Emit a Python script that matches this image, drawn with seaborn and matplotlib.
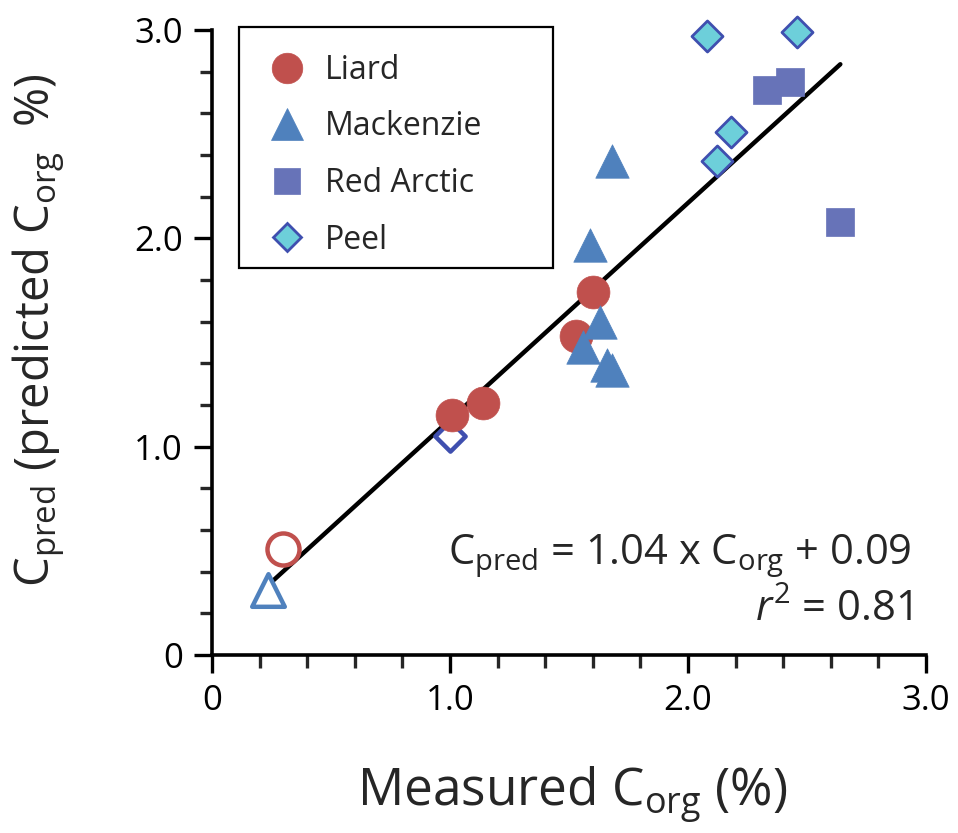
import matplotlib
matplotlib.use("Agg")
import matplotlib.pyplot as plt
import seaborn as sns
import pandas as pd
import numpy as np
from matplotlib.lines import Line2D
from matplotlib.patches import Rectangle

# Measured vs predicted organic carbon (%) per river
rivers = ["Liard", "Mackenzie", "Red Arctic", "Peel"]

liard_measured = [1.01, 1.14, 1.53, 1.60]
liard_predicted = [1.15, 1.21, 1.53, 1.74]

mackenzie_measured = [1.68, 1.59, 1.63, 1.56, 1.66, 1.68]
mackenzie_predicted = [2.37, 1.97, 1.60, 1.48, 1.39, 1.37]

redarctic_measured = [2.33, 2.43, 2.64]
redarctic_predicted = [2.71, 2.75, 2.08]

peel_measured = [2.08, 2.46, 2.18, 2.12]
peel_predicted = [2.97, 2.99, 2.51, 2.37]

# Open symbols (one per river where present)
open_rivers = ["Liard", "Mackenzie", "Peel"]
open_measured = [0.30, 0.235, 1.00]
open_predicted = [0.51, 0.31, 1.05]

# Regression
slope = 1.04
intercept = 0.09
r_squared = 0.81

tick_labels = ["0", "1.0", "2.0", "3.0"]

styles = {
    "Liard": dict(marker="o", face="#C0504D", edge="#C0504D", s=560),
    "Mackenzie": dict(marker="^", face="#4F81BD", edge="#4F81BD", s=580),
    "Red Arctic": dict(marker="s", face="#6773B8", edge="#6773B8", s=420),
    "Peel": dict(marker="D", face="#6DCFDA", edge="#3F4FAF", s=250),
}

frames = []
for name, xs, ys in [
    ("Liard", liard_measured, liard_predicted),
    ("Mackenzie", mackenzie_measured, mackenzie_predicted),
    ("Red Arctic", redarctic_measured, redarctic_predicted),
    ("Peel", peel_measured, peel_predicted),
]:
    frames.append(pd.DataFrame({"river": name, "measured": xs, "predicted": ys}))
df = pd.concat(frames, ignore_index=True)
df_open = pd.DataFrame({"river": open_rivers, "measured": open_measured,
                        "predicted": open_predicted})

sns.set_theme(style="ticks")
plt.rcParams["font.family"] = ["Open Sans", "DejaVu Sans"]
plt.rcParams["mathtext.fontset"] = "custom"
plt.rcParams["mathtext.rm"] = "Open Sans"
plt.rcParams["mathtext.it"] = "Open Sans:italic"
plt.rcParams["mathtext.bf"] = "Open Sans:bold"

fig = plt.figure(figsize=(9.58, 8.33), dpi=100)
ax = fig.add_axes([0.2213, 0.2137, 0.7453, 0.7503])

# Fit line across the range of measured values
all_x = np.concatenate([df["measured"].values, df_open["measured"].values])
fit_x = np.array([all_x.min(), all_x.max()])
fit_df = pd.DataFrame({"measured": fit_x, "predicted": slope * fit_x + intercept})
sns.lineplot(data=fit_df, x="measured", y="predicted", ax=ax, color="black",
             lw=3.2, zorder=2, legend=False)

# Open (hollow) symbols
for name in open_rivers:
    st = styles[name]
    sub = df_open[df_open["river"] == name]
    sns.scatterplot(data=sub, x="measured", y="predicted", ax=ax,
                    marker=st["marker"], s=st["s"] * 0.95, color="white",
                    edgecolor=st["edge"], linewidth=3.2, zorder=3, legend=False,
                    clip_on=False)

# Filled symbols
for name in rivers:
    st = styles[name]
    sub = df[df["river"] == name]
    sns.scatterplot(data=sub, x="measured", y="predicted", ax=ax,
                    marker=st["marker"], s=st["s"], color=st["face"],
                    edgecolor=st["edge"], linewidth=2.0 if name == "Peel" else 0.5,
                    zorder=4, legend=False, clip_on=False)

ax.set_xlim(0, 3)
ax.set_ylim(0, 3)
ax.set_xticks([0, 1, 2, 3])
ax.set_yticks([0, 1, 2, 3])
ax.set_xticklabels(tick_labels)
ax.set_yticklabels(tick_labels)
ax.set_xticks(np.arange(0, 3.01, 0.2), minor=True)
ax.set_yticks(np.arange(0, 3.01, 0.2), minor=True)
ax.tick_params(which="major", length=13, width=2.4, direction="out",
               labelsize=25, colors="black", pad=8)
ax.tick_params(which="minor", length=9, width=2.4, direction="out")
for side in ["top", "right"]:
    ax.spines[side].set_visible(False)
for side in ["left", "bottom"]:
    ax.spines[side].set_linewidth(2.6)
    ax.spines[side].set_color("black")

ax.set_xlabel(r"Measured C$_{\mathrm{org}}$ (%)", fontsize=37)
ax.set_ylabel(r"C$_{\mathrm{pred}}$ (predicted C$_{\mathrm{org}}$  %)", fontsize=34)
ax.xaxis.set_label_coords(0.505, -0.174)
ax.yaxis.set_label_coords(-0.201, 0.52)

ax.text(0.98, 0.146,
        r"C$_{\mathrm{pred}}$ = %.2f x C$_{\mathrm{org}}$ + %.2f" % (slope, intercept),
        transform=ax.transAxes, ha="right", va="baseline", fontsize=30)
ax.text(0.98, 0.054, r"$\mathit{r}^{2}$ = %.2f" % r_squared,
        transform=ax.transAxes, ha="right", va="baseline", fontsize=30)

# Legend: entries plus a rectangular frame box
handles = []
for name in rivers:
    st = styles[name]
    handles.append(Line2D([], [], linestyle="none", marker=st["marker"],
                          markersize=np.sqrt(st["s"]) * 0.93,
                          markerfacecolor=st["face"], markeredgecolor=st["edge"],
                          markeredgewidth=2.0 if name == "Peel" else 0.5))
leg = ax.legend(handles, rivers, loc="upper left", bbox_to_anchor=(0.038, 1.005),
                fontsize=23, frameon=False, borderpad=0.84, labelspacing=0.74,
                handletextpad=0.55, handlelength=1.3, borderaxespad=0)
leg.set_zorder(6)
ax.add_patch(Rectangle((0.038, 0.619), 0.44, 0.385, transform=ax.transAxes,
                       facecolor="white", edgecolor="black", linewidth=1.6,
                       clip_on=False, zorder=5))

fig.savefig("out.png", dpi=100, facecolor="white")
